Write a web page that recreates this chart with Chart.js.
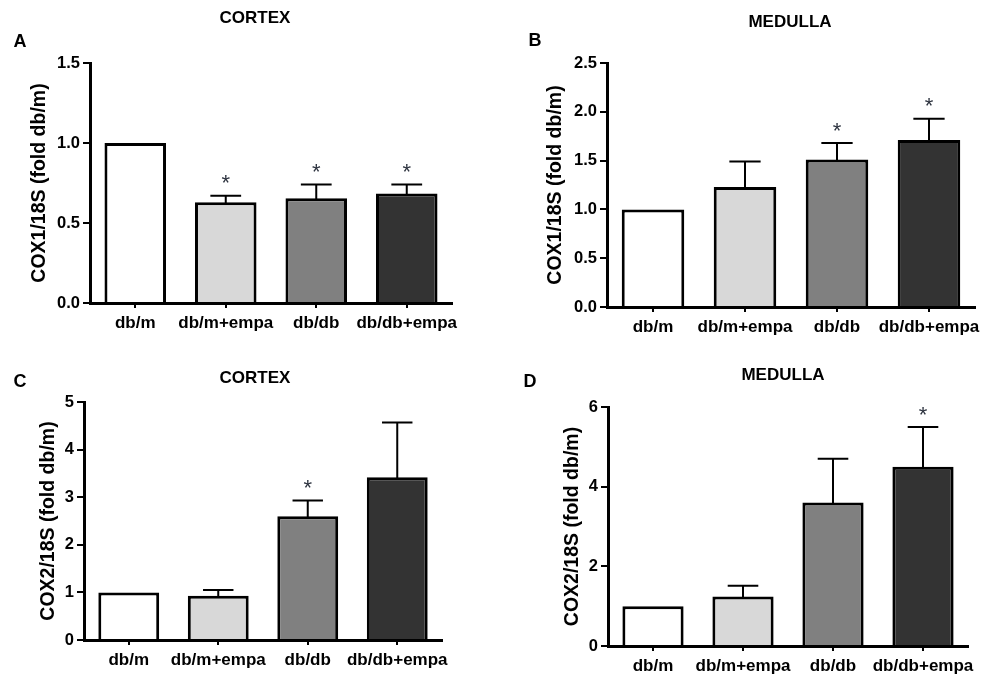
<!DOCTYPE html>
<html lang="en">
<head>
  <meta charset="UTF-8" />
  <title>COX1 / COX2 expression, cortex and medulla</title>
  <script src="https://cdn.jsdelivr.net/npm/chart.js"></script>
  <style>
    body { margin: 0; background: #fff; font-family: 'Liberation Sans', Arial, sans-serif; }
    #page { position: relative; width: 1000px; height: 684px; overflow: hidden; }
    .panel { position: absolute; width: 500px; height: 342px; }
    .txt { position: absolute; transform: translate(-50%, -50%); font-weight: bold; line-height: 1; white-space: nowrap; color: #000; }
    .title { font-size: 17px; }
    .letter { font-size: 18px; }
  </style>
</head>
<body>
<div id="page">
  <div class="panel" style="left:0;top:0"><canvas id="chartA" width="500" height="342"></canvas></div>
  <div class="panel" style="left:500px;top:0"><canvas id="chartB" width="500" height="342"></canvas></div>
  <div class="panel" style="left:0;top:342px"><canvas id="chartC" width="500" height="342"></canvas></div>
  <div class="panel" style="left:500px;top:342px"><canvas id="chartD" width="500" height="342"></canvas></div>

  <div class="txt letter" style="left:20px;top:41px">A</div>
  <div class="txt title" style="left:255px;top:17px">CORTEX</div>
  <div class="txt letter" style="left:535px;top:40px">B</div>
  <div class="txt title" style="left:790px;top:21px">MEDULLA</div>
  <div class="txt letter" style="left:20px;top:381px">C</div>
  <div class="txt title" style="left:255px;top:377px">CORTEX</div>
  <div class="txt letter" style="left:530px;top:381px">D</div>
  <div class="txt title" style="left:783px;top:374px">MEDULLA</div>
</div>

<script>
  // groups
  const groups = ['db/m', 'db/m+empa', 'db/db', 'db/db+empa'];

  // A: COX1 cortex
  const cox1CortexMean = [1.0, 0.63, 0.655, 0.685];
  const cox1CortexErr  = [0, 0.04, 0.085, 0.055];
  const cox1CortexSig  = [false, true, true, true];
  const cox1CortexTicks = [0, 0.5, 1.0, 1.5];

  // B: COX1 medulla
  const cox1MedullaMean = [1.0, 1.23, 1.51, 1.71];
  const cox1MedullaErr  = [0, 0.26, 0.17, 0.22];
  const cox1MedullaSig  = [false, false, true, true];
  const cox1MedullaTicks = [0, 0.5, 1.0, 1.5, 2.0, 2.5];

  // C: COX2 cortex
  const cox2CortexMean = [1.0, 0.93, 2.6, 3.42];
  const cox2CortexErr  = [0, 0.12, 0.33, 1.15];
  const cox2CortexSig  = [false, false, true, false];
  const cox2CortexTicks = [0, 1, 2, 3, 4, 5];

  // D: COX2 medulla
  const cox2MedullaMean = [1.0, 1.24, 3.6, 4.5];
  const cox2MedullaErr  = [0, 0.27, 1.1, 1.0];
  const cox2MedullaSig  = [false, false, false, true];
  const cox2MedullaTicks = [0, 2, 4, 6];

  const barFill = ['#ffffff', '#d8d8d8', '#808080', '#333333'];

  Chart.defaults.font.family = "'Liberation Sans', Arial, sans-serif";
  Chart.defaults.color = '#000';

  // upper error bars + significance stars
  const errorBars = {
    id: 'errorBars',
    afterDatasetsDraw(chart, args, opts) {
      const ctx = chart.ctx;
      const y = chart.scales.y;
      const vals = chart.data.datasets[0].data;
      const bars = chart.getDatasetMeta(0).data;
      ctx.save();
      ctx.strokeStyle = '#000';
      ctx.lineWidth = 2;
      bars.forEach((bar, i) => {
        const e = opts.errors[i];
        const top = y.getPixelForValue(vals[i] + e);
        if (e > 0) {
          const half = bar.width * 0.25;
          ctx.beginPath();
          ctx.moveTo(bar.x, bar.y + 2);
          ctx.lineTo(bar.x, top);
          ctx.moveTo(bar.x - half, top);
          ctx.lineTo(bar.x + half, top);
          ctx.stroke();
        }
        if (opts.sig[i]) {
          const size = 22;
          ctx.font = size + "px 'Liberation Sans', Arial, sans-serif";
          ctx.fillStyle = '#2e3440';
          ctx.textAlign = 'center';
          ctx.textBaseline = 'alphabetic';
          ctx.fillText('*', bar.x, top - 18 + size * 0.575);
        }
      });
      ctx.restore();
    }
  };

  function makePanel(p) {
    new Chart(document.getElementById(p.id), {
      type: 'bar',
      data: {
        labels: groups,
        datasets: [{
          data: p.mean,
          backgroundColor: barFill,
          borderColor: '#000',
          borderWidth: 3,
          borderSkipped: 'start',
          barPercentage: 0.68,
          categoryPercentage: 1
        }]
      },
      options: {
        responsive: false,
        animation: false,
        devicePixelRatio: 1,
        layout: { padding: p.pad },
        plugins: {
          legend: { display: false },
          tooltip: { enabled: false },
          errorBars: { errors: p.err, sig: p.sig }
        },
        scales: {
          x: {
            grid: { drawOnChartArea: false, drawTicks: true, tickLength: 5, offset: false, color: '#000', lineWidth: 2 },
            border: { display: true, color: '#000', width: 3 },
            ticks: { font: { size: 17, weight: 'bold' }, padding: 5, maxRotation: 0, autoSkip: false },
            afterFit: s => { s.height = p.xHeight; s.paddingLeft = 0; s.paddingRight = 0; }
          },
          y: {
            min: p.ticks[0],
            max: p.ticks[p.ticks.length - 1],
            afterBuildTicks: s => { s.ticks = p.ticks.map(v => ({ value: v })); },
            grid: { drawOnChartArea: false, drawTicks: true, tickLength: 7, color: '#000', lineWidth: 2 },
            border: { display: true, color: '#000', width: 3 },
            ticks: { font: { size: 16.5, weight: 'bold' }, padding: 3, callback: v => Number(v).toFixed(p.decimals) },
            title: { display: true, text: p.yTitle, font: { size: 19.5, weight: 'bold' }, padding: 0 },
            afterFit: s => { s.width = p.yWidth; s.paddingTop = 0; s.paddingBottom = 0; }
          }
        }
      },
      plugins: [errorBars]
    });
  }

  makePanel({ id: 'chartA', mean: cox1CortexMean, err: cox1CortexErr, sig: cox1CortexSig, ticks: cox1CortexTicks, decimals: 1,
    yTitle: 'COX1/18S (fold db/m)', pad: { left: 28, right: 48, top: 63, bottom: 0 }, yWidth: 62, xHeight: 39 });
  makePanel({ id: 'chartB', mean: cox1MedullaMean, err: cox1MedullaErr, sig: cox1MedullaSig, ticks: cox1MedullaTicks, decimals: 1,
    yTitle: 'COX1/18S (fold db/m)', pad: { left: 44, right: 25, top: 63, bottom: 0 }, yWidth: 63, xHeight: 35 });
  makePanel({ id: 'chartC', mean: cox2CortexMean, err: cox2CortexErr, sig: cox2CortexSig, ticks: cox2CortexTicks, decimals: 0,
    yTitle: 'COX2/18S (fold db/m)', pad: { left: 37, right: 58, top: 60, bottom: 0 }, yWidth: 47, xHeight: 44 });
  makePanel({ id: 'chartD', mean: cox2MedullaMean, err: cox2MedullaErr, sig: cox2MedullaSig, ticks: cox2MedullaTicks, decimals: 0,
    yTitle: 'COX2/18S (fold db/m)', pad: { left: 61, right: 32, top: 65, bottom: 0 }, yWidth: 47, xHeight: 38 });
</script>
</body>
</html>
